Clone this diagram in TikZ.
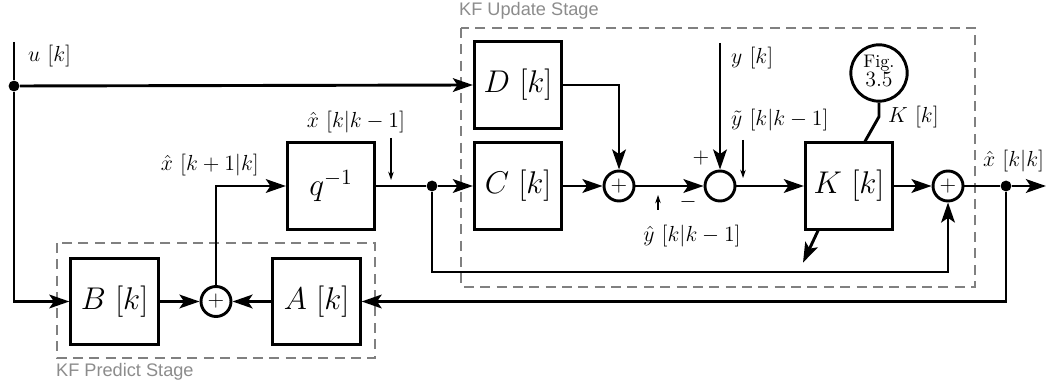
\documentclass[tikz,border=0pt]{standalone}
\usepackage{fontspec}
\newfontfamily\stagefont{Liberation Sans}
\usetikzlibrary{positioning,arrows.meta,calc}
\definecolor{stagegray}{HTML}{808080}
\definecolor{stagetext}{HTML}{8C8C8C}

\begin{document}
\begin{tikzpicture}[
    x=0.55pt, y=-0.55pt,
    blk/.style={draw, line width=1.6pt, minimum width=48pt, minimum height=47.5pt, inner sep=0pt, font=\LARGE},
    sumpt/.style={draw, circle, line width=1.6pt, minimum size=16.5pt, inner sep=0pt, font=\large},
    dotpt/.style={circle, fill, inner sep=0pt, minimum size=6pt},
    wire/.style={line width=1.6pt},
    sig/.style={wire, -{Stealth[length=11pt, width=7.5pt, inset=2.5pt]}},
    tick/.style={line width=0.6pt, -{Stealth[length=4.5pt, width=3pt]}},
    tag/.style={font=\large, inner sep=1pt},
    stage/.style={draw=stagegray, line width=1.1pt, dash pattern=on 5.5pt off 3.5pt},
    stagelbl/.style={text=stagetext, font=\stagefont, inner sep=1pt},
  ]
    \useasboundingbox (0,0) rectangle (1047,389);

    % stages
    \draw[stage] (57,243) rectangle (375,358);
    \draw[stage] (461,28) rectangle (975,287);
    \node[stagelbl, anchor=west] (predlbl) at (54,372) {KF Predict Stage};
    \node[stagelbl, anchor=west] (updlbl)  at (457,11) {KF Update Stage};

    % blocks
    \node[blk] (B) at (114.5,301.5) {$B\ [k]$};
    \node[blk] (A) at (316.5,301.5) {$A\ [k]$};
    \node[blk] (q) at (331,186) {$q^{-1}$};
    \node[blk] (D) at (518,85)  {$D\ [k]$};
    \node[blk] (C) at (518,186) {$C\ [k]$};
    \node[blk] (K) at (849,186) {$K\ [k]$};

    % junctions
    \node[sumpt] (s4) at (216,301.5) {$+$};
    \node[sumpt] (s1) at (619,186) {$+$};
    \node[sumpt] (s2) at (720,186) {};
    \node[sumpt] (s3) at (948,186) {$+$};
    \node[dotpt] (du) at (14,86) {};
    \node[dotpt] (dq) at (432,186) {};
    \node[dotpt] (dx) at (1006,186) {};
    \node[draw, circle, line width=1.6pt, minimum size=31pt, inner sep=0pt]
      (fig) at (879,73) {\begin{tabular}{@{}c@{}}Fig.\\[-1.5pt] \large 3.5\end{tabular}};

    \coordinate (uin)  at (14,42);
    \coordinate (yin)  at (720,43);
    \coordinate (xout) at (1046,186);

    % signal paths
    \draw[wire] (uin) -- (du);
    \draw[sig] (du) -- (D.west);
    \draw[sig] (du) |- (B.west);
    \draw[sig] (B.east) -- (s4.west);
    \draw[sig] (A.west) -- (s4.east);
    \draw[sig] (s4.north) |- (q.west);
    \draw[wire] (q.east) -- (dq);
    \draw[sig] (dq) -- (C.west);
    \draw[sig] (D.east) -| (s1.north);
    \draw[sig] (C.east) -- (s1.west);
    \draw[sig] (s1.east) -- (s2.west);
    \draw[sig] (yin) -- (s2.north);
    \draw[sig] (s2.east) -- (K.west);
    \draw[sig] (K.east) -- (s3.west);
    \draw[wire] (s3.east) -- (dx);
    \draw[sig] (dx) -- (xout);
    \draw[sig] (dq) -- ++(0,86) -| (s3.south);
    \draw[sig] (dx) |- (A.east);
    \draw[wire] (fig.south) -- ++(0,14) -- ($(K.north)+(16,0)$);
    \draw[sig] ($(K.south)+(-31,0)$) -- ++(-15,32);

    % labels
    \node[tag, anchor=west] (lu)  at (26,56)   {$u\ [k]$};
    \node[tag, anchor=east] (lxp) at (261,165) {$\hat{x}\ [k+1|k]$};
    \node[tag]              (lxm) at (356,122) {$\hat{x}\ [k|k-1]$};
    \node[tag, anchor=west] (ly)  at (729,58)  {$y\ [k]$};
    \node[tag, anchor=west] (lyt) at (729,120) {$\tilde{y}\ [k|k-1]$};
    \node[tag]              (lyh) at (692,236) {$\hat{y}\ [k|k-1]$};
    \node[tag, anchor=west] (lK)  at (886,117) {$K\ [k]$};
    \node[tag, anchor=west] (lxo) at (981,161) {$\hat{x}\ [k|k]$};
    \node[tag] (lplus)  at (701,158) {$+$};
    \node[tag] (lminus) at (688,202) {$-$};

    \coordinate (t1) at (391,138);
    \coordinate (t2) at (743,140);
    \coordinate (t3) at (658,210);
    \draw[tick] (t1) -- ++(0,42);
    \draw[tick] (t2) -- ++(0,38);
    \draw[tick] (t3) -- ++(0,-15);
  \end{tikzpicture}
\end{document}
